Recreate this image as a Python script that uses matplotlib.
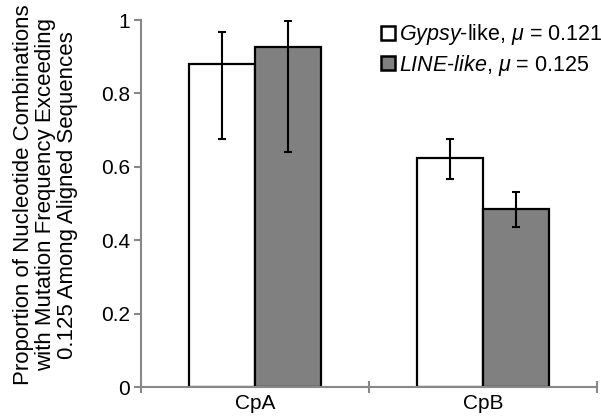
import matplotlib
matplotlib.use("Agg")
import matplotlib.pyplot as plt
import numpy as np
from matplotlib.lines import Line2D

plt.rcParams['font.family'] = ['Liberation Sans', 'DejaVu Sans']
plt.rcParams['mathtext.fontset'] = 'custom'
plt.rcParams['mathtext.rm'] = 'Liberation Sans'
plt.rcParams['mathtext.it'] = 'Liberation Sans:italic'

categories = ["CpA", "CpB"]
gypsy = [0.879, 0.623]
gypsy_err_low = [0.202, 0.056]
gypsy_err_high = [0.087, 0.053]
line_like = [0.926, 0.484]
line_err_low = [0.286, 0.047]
line_err_high = [0.071, 0.047]
series_labels = [r"$\it{Gypsy}$-like, $\mu$ = 0.121", r"$\it{LINE}$-$\it{like}$, $\mu$ = 0.125"]

fig = plt.figure(figsize=(6.01, 4.19), dpi=100)
ax = fig.add_axes([141/601, 1-387/419, 456/601, 367/419])

x = np.arange(len(categories))
w = 0.29
ax.bar(x - w/2, gypsy, w, color='white', edgecolor='black', linewidth=1.6, zorder=2)
ax.bar(x + w/2, line_like, w, color='#808080', edgecolor='black', linewidth=1.6, zorder=2)
ax.errorbar(x - w/2, gypsy, yerr=[gypsy_err_low, gypsy_err_high], fmt='none', ecolor='black',
            elinewidth=1.5, capsize=3, capthick=1.5, zorder=3)
ax.errorbar(x + w/2, line_like, yerr=[line_err_low, line_err_high], fmt='none', ecolor='black',
            elinewidth=1.5, capsize=3, capthick=1.5, zorder=3)

ax.set_xlim(-0.5, 1.5)
ax.set_ylim(0, 1)
ax.set_yticks([0, 0.2, 0.4, 0.6, 0.8, 1])
ax.set_yticklabels(["0", "0.2", "0.4", "0.6", "0.8", "1"])
ax.set_xticks(x)
ax.set_xticklabels(categories)
ax.set_xticks([-0.5, 0.5, 1.5], minor=True)
ax.tick_params(axis='x', which='major', length=0, labelsize=15, pad=5)
ax.tick_params(axis='x', which='minor', direction='inout', length=8, color='#888888', width=1.5)
ax.tick_params(axis='y', direction='out', length=5, color='#888888', width=1.5, labelsize=15, pad=3)
for s in ['top', 'right']:
    ax.spines[s].set_visible(False)
for s in ['left', 'bottom']:
    ax.spines[s].set_color('#888888')
    ax.spines[s].set_linewidth(1.5)

ax.set_ylabel("Proportion of Nucleotide Combinations\nwith Mutation Frequency Exceeding\n0.125 Among Aligned Sequences",
              fontsize=16, linespacing=1.08)
ax.yaxis.set_label_coords(-0.138, 0.524)

handles = [Line2D([], [], marker='s', linestyle='none', markersize=10, markerfacecolor='white',
                  markeredgecolor='black', markeredgewidth=1.8),
           Line2D([], [], marker='s', linestyle='none', markersize=10, markerfacecolor='#808080',
                  markeredgecolor='black', markeredgewidth=1.8)]
ax.legend(handles, series_labels, loc='upper right', bbox_to_anchor=(1.045, 1.035), frameon=False,
          fontsize=15.5, handlelength=0.6, handletextpad=0.2, labelspacing=0.25, borderpad=0.2)

fig.savefig("out.png", dpi=100)
